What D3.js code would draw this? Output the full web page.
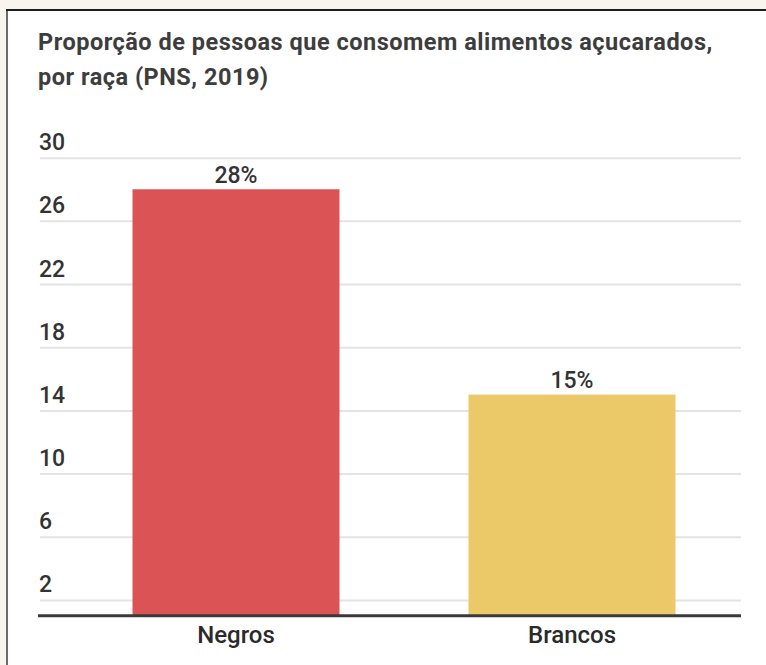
<!DOCTYPE html>
<html>
<head>
<meta charset="utf-8">
<script src="https://cdn.jsdelivr.net/npm/d3@7"></script>
<style>
  body { margin: 0; background: #f8f5ee; }
  svg { display: block; font-family: Roboto, "Noto Sans", sans-serif; }
</style>
</head>
<body>
<div id="chart"></div>
<script>
// data
var categories = ["Negros", "Brancos"];
var values = [28, 15];
var valueLabels = ["28%", "15%"];
var tickValues = [30, 26, 22, 18, 14, 10, 6, 2];
var barColors = ["#db5354", "#ecc968"];
var titleLines = ["Proporção de pessoas que consomem alimentos açucarados,", "por raça (PNS, 2019)"];

var W = 766, H = 665;
var plotLeft = 40, plotRight = 741, plotTop = 157.7, plotBottom = 615.7;

var svg = d3.select("#chart").append("svg")
    .attr("width", W)
    .attr("height", H);

// white panel with borders
svg.append("rect")
    .attr("x", 7).attr("y", 10)
    .attr("width", W).attr("height", H)
    .attr("fill", "#ffffff");
svg.append("line")
    .attr("x1", 7).attr("x2", 7).attr("y1", 10).attr("y2", H)
    .attr("stroke", "#6b6b6b").attr("stroke-width", 2);
svg.append("line")
    .attr("x1", 6).attr("x2", W).attr("y1", 10).attr("y2", 10)
    .attr("stroke", "#1e1e1e").attr("stroke-width", 2);

// title
var title = svg.append("text")
    .attr("fill", "#3d3d3d")
    .attr("font-size", "23.5px")
    .attr("font-weight", 700)
    .attr("letter-spacing", "0.5px");
titleLines.forEach(function (t, i) {
    title.append("tspan").attr("x", 38).attr("y", 49.5 + i * 35.5).text(t);
});

// scales
var y = d3.scaleLinear()
    .domain([1, 30])
    .range([plotBottom, plotTop]);

var x = d3.scaleBand()
    .domain(categories)
    .range([68, 740])
    .paddingInner(0.384)
    .paddingOuter(0.192);

// grid + tick labels
var yAxis = d3.axisLeft(y)
    .tickValues(tickValues)
    .tickSize(-(plotRight - plotLeft))
    .tickFormat(d3.format("d"));

var gy = svg.append("g")
    .attr("transform", "translate(" + plotLeft + ",0)")
    .call(yAxis);
gy.select(".domain").remove();
gy.selectAll(".tick line")
    .attr("stroke", "#e3e3e3")
    .attr("stroke-width", 2);
gy.selectAll(".tick text")
    .attr("x", -1)
    .attr("dy", -8)
    .attr("text-anchor", "start")
    .attr("fill", "#333")
    .attr("font-size", "23px")
    .attr("font-weight", 500)
    .attr("font-family", "Roboto, sans-serif");

// bars
svg.selectAll(".bar")
    .data(values)
    .join("rect")
    .attr("class", "bar")
    .attr("x", function (d, i) { return x(categories[i]) })
    .attr("width", x.bandwidth())
    .attr("y", function (d) { return y(d) })
    .attr("height", function (d) { return y(1) - y(d) })
    .attr("fill", function (d, i) { return barColors[i] });

// value labels
svg.selectAll(".val")
    .data(values)
    .join("text")
    .attr("class", "val")
    .attr("x", function (d, i) { return x(categories[i]) + x.bandwidth() / 2 })
    .attr("y", function (d) { return y(d) - 6.5 })
    .attr("text-anchor", "middle")
    .attr("fill", "#333")
    .attr("font-size", "23px")
    .attr("font-weight", 500)
    .text(function (d, i) { return valueLabels[i] });

// baseline
svg.append("line")
    .attr("x1", 38).attr("x2", plotRight)
    .attr("y1", plotBottom).attr("y2", plotBottom)
    .attr("stroke", "#3a3a3a")
    .attr("stroke-width", 3);

// category labels
var xAxis = d3.axisBottom(x).tickSize(0);
var gx = svg.append("g")
    .attr("transform", "translate(0," + plotBottom + ")")
    .call(xAxis);
gx.select(".domain").remove();
gx.selectAll(".tick text")
    .attr("y", 0)
    .attr("dy", 27.5)
    .attr("fill", "#2a2a2a")
    .attr("font-size", "24px")
    .attr("font-weight", 500)
    .attr("font-family", "Roboto, sans-serif");
</script>
</body>
</html>
